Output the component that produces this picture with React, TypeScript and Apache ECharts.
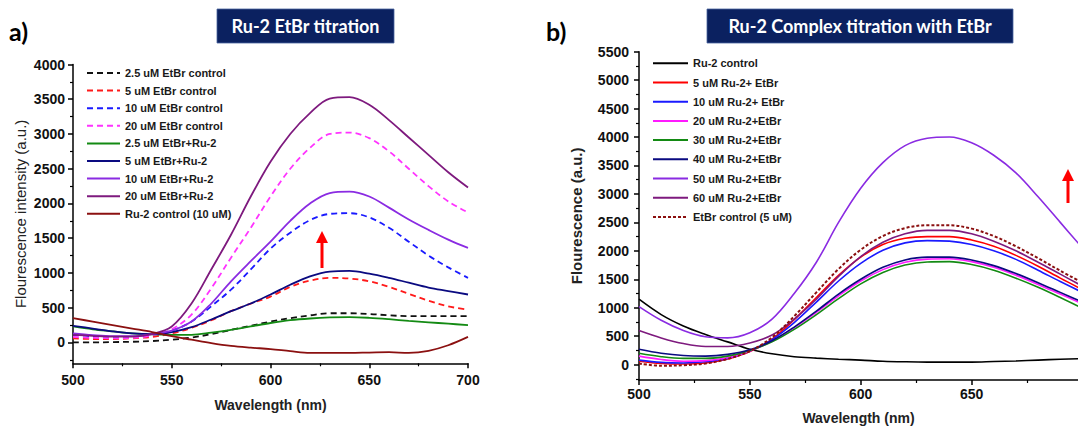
import React, { useEffect, useRef } from 'react';
import * as echarts from 'echarts';

// ---------- data ----------
const WL = [500, 510, 520, 530, 540, 550, 560, 570, 580, 590, 600, 610, 620, 630, 640, 650, 660, 670, 680, 690, 700];

// panel a) Ru-2 EtBr titration
const A_ETBR_25 = [0, 0, 5, 10, 20, 40, 70, 120, 180, 240, 300, 350, 390, 420, 420, 410, 390, 380, 380, 380, 380];
const A_ETBR_5 = [60, 50, 50, 60, 80, 130, 210, 320, 450, 560, 660, 800, 890, 930, 920, 880, 800, 700, 600, 520, 470];
const A_ETBR_10 = [110, 90, 80, 80, 110, 170, 300, 520, 760, 1050, 1350, 1580, 1760, 1850, 1860, 1800, 1650, 1450, 1250, 1080, 930];
const A_ETBR_20 = [80, 65, 60, 65, 100, 190, 400, 780, 1220, 1650, 2100, 2500, 2800, 3000, 3020, 2940, 2750, 2500, 2250, 2030, 1870];
const A_MIX_25 = [230, 190, 160, 130, 115, 110, 110, 140, 180, 230, 280, 320, 345, 360, 365, 355, 335, 310, 290, 270, 250];
const A_MIX_5 = [240, 200, 160, 130, 120, 150, 220, 330, 450, 560, 690, 830, 950, 1020, 1030, 990, 930, 860, 790, 740, 690];
const A_MIX_10 = [130, 105, 90, 90, 120, 170, 300, 560, 880, 1170, 1450, 1750, 2000, 2150, 2170, 2100, 1940, 1770, 1620, 1480, 1360];
const A_MIX_20 = [110, 95, 85, 85, 120, 230, 560, 1050, 1550, 2100, 2600, 3000, 3300, 3510, 3530, 3420, 3200, 2950, 2700, 2450, 2230];
const A_RU2 = [350, 300, 250, 200, 150, 90, 40, -10, -50, -75, -95, -125, -150, -150, -150, -145, -140, -150, -120, -40, 80];

// panel b) Ru-2 Complex titration with EtBr
const B_RU2 = [1150, 880, 680, 530, 400, 270, 190, 140, 115, 95, 80, 60, 50, 45, 45, 45, 55, 65, 80, 95, 105];
const B_5 = [60, 20, 10, 30, 100, 230, 450, 790, 1180, 1570, 1890, 2110, 2220, 2250, 2250, 2190, 2080, 1920, 1730, 1520, 1320];
const B_10 = [80, 40, 30, 50, 110, 240, 440, 740, 1100, 1470, 1780, 2010, 2140, 2180, 2170, 2110, 2000, 1850, 1660, 1460, 1270];
const B_20 = [150, 90, 60, 70, 120, 240, 410, 650, 920, 1210, 1470, 1670, 1800, 1855, 1860, 1810, 1710, 1570, 1410, 1240, 1070];
const B_30 = [200, 140, 110, 110, 150, 250, 400, 620, 880, 1160, 1420, 1620, 1750, 1805, 1810, 1760, 1660, 1520, 1360, 1180, 990];
const B_40 = [270, 200, 160, 150, 180, 260, 420, 660, 940, 1240, 1500, 1710, 1840, 1890, 1890, 1840, 1740, 1600, 1440, 1270, 1100];
const B_50 = [1020, 780, 600, 490, 470, 560, 800, 1250, 1800, 2500, 3100, 3550, 3850, 3980, 4000, 3900, 3680, 3370, 2950, 2500, 2050];
const B_60 = [600, 470, 370, 320, 320, 380, 520, 800, 1150, 1550, 1900, 2150, 2300, 2360, 2360, 2300, 2170, 2000, 1800, 1590, 1380];
const B_ETBR = [20, -20, -10, 20, 100, 240, 480, 850, 1270, 1680, 2020, 2260, 2400, 2450, 2450, 2390, 2260, 2080, 1870, 1650, 1440];

// tick labels
const X_TICKS_A = [500, 550, 600, 650, 700];
const X_MINOR_A = [525, 575, 625, 675];
const Y_TICKS_A = [0, 500, 1000, 1500, 2000, 2500, 3000, 3500, 4000];
const Y_MINOR_A = [-250, 250, 750, 1250, 1750, 2250, 2750, 3250, 3750];
const X_TICKS_B = [500, 550, 600, 650];
const X_MINOR_B = [525, 575, 625, 675];
const Y_TICKS_B = [0, 500, 1000, 1500, 2000, 2500, 3000, 3500, 4000, 4500, 5000, 5500];
const Y_MINOR_B = [-250, 250, 750, 1250, 1750, 2250, 2750, 3250, 3750, 4250, 4750, 5250];

const SERIES_A = [
  { name: '2.5 uM EtBr control', data: A_ETBR_25, color: '#111111', dash: true },
  { name: '5 uM EtBr control', data: A_ETBR_5, color: '#ff1a1a', dash: true },
  { name: '10 uM EtBr control', data: A_ETBR_10, color: '#1a1aff', dash: true },
  { name: '20 uM EtBr control', data: A_ETBR_20, color: '#ff33ff', dash: true },
  { name: '2.5 uM EtBr+Ru-2', data: A_MIX_25, color: '#138a13', dash: false },
  { name: '5 uM EtBr+Ru-2', data: A_MIX_5, color: '#0a0a80', dash: false },
  { name: '10 uM EtBr+Ru-2', data: A_MIX_10, color: '#8a2be2', dash: false },
  { name: '20 uM EtBr+Ru-2', data: A_MIX_20, color: '#7e1a7e', dash: false },
  { name: 'Ru-2 control (10 uM)', data: A_RU2, color: '#8b1010', dash: false },
];

const SERIES_B = [
  { name: 'Ru-2 control', data: B_RU2, color: '#000000', dot: false },
  { name: '5 uM Ru-2+ EtBr', data: B_5, color: '#ff0000', dot: false },
  { name: '10 uM Ru-2+ EtBr', data: B_10, color: '#1a1aff', dot: false },
  { name: '20 uM Ru-2+EtBr', data: B_20, color: '#ff1aff', dot: false },
  { name: '30 uM Ru-2+EtBr', data: B_30, color: '#138a13', dot: false },
  { name: '40 uM Ru-2+EtBr', data: B_40, color: '#0a0a80', dot: false },
  { name: '50 uM Ru-2+EtBr', data: B_50, color: '#8a2be2', dot: false },
  { name: '60 uM Ru-2+EtBr', data: B_60, color: '#7e1a7e', dot: false },
  { name: 'EtBr control (5 uM)', data: B_ETBR, color: '#8b1010', dot: true },
];

const FONT = '"Liberation Sans", Arial, sans-serif';

function mainAxis(dim: 'x' | 'y', gridIndex: number, min: number, max: number, ticks: number[], name: string, nameGap: number, labelMargin: number, nameBold: boolean) {
  return {
    type: 'value',
    gridIndex,
    min,
    max,
    position: dim === 'x' ? 'bottom' : 'left',
    name,
    nameLocation: 'middle',
    nameGap,
    nameTextStyle: { fontFamily: FONT, fontSize: dim === 'x' ? 14 : 15, fontWeight: nameBold ? 'bold' : 'normal', color: '#222' },
    axisLine: { show: true, onZero: false, lineStyle: { color: '#000', width: 1.5 } },
    axisTick: { show: true, customValues: ticks, length: 5, lineStyle: { color: '#000', width: 1.5 } },
    axisLabel: {
      show: true,
      customValues: ticks,
      formatter: (v: number) => String(v),
      fontFamily: FONT,
      fontSize: 14,
      fontWeight: 'bold',
      color: '#111',
      margin: labelMargin,
    },
    splitLine: { show: false },
  };
}

function minorAxis(dim: 'x' | 'y', gridIndex: number, min: number, max: number, ticks: number[]) {
  return {
    type: 'value',
    gridIndex,
    min,
    max,
    position: dim === 'x' ? 'bottom' : 'left',
    offset: 0,
    axisLine: { show: false, onZero: false },
    axisTick: { show: true, customValues: ticks, length: 3, lineStyle: { color: '#000', width: 1.2 } },
    axisLabel: { show: false },
    splitLine: { show: false },
  };
}

export default function App() {
  const ref = useRef<HTMLDivElement>(null);

  useEffect(() => {
    if (!ref.current) return;
    const chart = echarts.init(ref.current, undefined, { renderer: 'svg' });

    const seriesA = SERIES_A.map((s) => ({
      name: s.name,
      type: 'line',
      xAxisIndex: 0,
      yAxisIndex: 0,
      data: WL.map((w, i) => [w, s.data[i]]),
      symbol: 'none',
      smooth: 0.35,
      silent: true,
      lineStyle: { color: s.color, width: 1.8, type: s.dash ? [6, 4] : 'solid' },
      itemStyle: { color: s.color },
    }));
    const seriesB = SERIES_B.map((s) => ({
      name: s.name,
      type: 'line',
      xAxisIndex: 2,
      yAxisIndex: 2,
      data: WL.map((w, i) => [w, s.data[i]]),
      symbol: 'none',
      smooth: 0.35,
      silent: true,
      lineStyle: { color: s.color, width: s.dot ? 2 : 1.6, type: s.dot ? [3, 2] : 'solid' },
      itemStyle: { color: s.color },
    }));

    const legendText = { fontFamily: FONT, fontSize: 11, fontWeight: 'bold', color: '#1a1a1a' };

    chart.setOption({
      animation: false,
      backgroundColor: '#ffffff',
      grid: [
        { left: 73, right: 610, top: 64.5, bottom: 66.7, containLabel: false },
        { left: 639, right: 0, top: 51.7, bottom: 48.9, containLabel: false },
      ],
      xAxis: [
        mainAxis('x', 0, 500, 700, X_TICKS_A, 'Wavelength (nm)', 35, 10, true),
        minorAxis('x', 0, 500, 700, X_MINOR_A),
        mainAxis('x', 1, 500, 698, X_TICKS_B, 'Wavelength (nm)', 31, 7, true),
        minorAxis('x', 1, 500, 698, X_MINOR_B),
      ],
      yAxis: [
        mainAxis('y', 0, -300, 4000, Y_TICKS_A, 'Flourescence intensity (a.u.)', 45, 8, false),
        minorAxis('y', 0, -300, 4000, Y_MINOR_A),
        mainAxis('y', 1, -270, 5500, Y_TICKS_B, 'Flourescence (a.u.)', 55, 10, true),
        minorAxis('y', 1, -270, 5500, Y_MINOR_B),
      ],
      legend: [
        {
          data: SERIES_A.map((s) => s.name),
          orient: 'vertical',
          left: 81,
          top: 59.2,
          itemWidth: 33,
          itemHeight: 14,
          itemGap: 0,
          selectedMode: false,
          itemStyle: { opacity: 0 },
          textStyle: { ...legendText, lineHeight: 17.6 },
        },
        {
          data: SERIES_B.map((s) => s.name),
          orient: 'vertical',
          left: 647,
          top: 48.7,
          itemWidth: 35,
          itemHeight: 14,
          itemGap: 0,
          selectedMode: false,
          itemStyle: { opacity: 0 },
          textStyle: { ...legendText, lineHeight: 19.2 },
        },
      ],
      graphic: [
        { type: 'text', x: 9, y: 31, style: { text: 'a)', fontFamily: 'Lato, "Open Sans", sans-serif', fontSize: 25, fontWeight: 'bold', fill: '#000', verticalAlign: 'middle' } },
        { type: 'text', x: 546, y: 31, style: { text: 'b)', fontFamily: 'Lato, "Open Sans", sans-serif', fontSize: 25, fontWeight: 'bold', fill: '#000', verticalAlign: 'middle' } },
        { type: 'rect', shape: { x: 217, y: 9, width: 177, height: 34 }, style: { fill: '#0b2160', stroke: '#4a64a0', lineWidth: 0.8 } },
        { type: 'text', x: 305.5, y: 26, style: { text: 'Ru-2 EtBr titration', fontFamily: 'Lato, "Open Sans", sans-serif', fontSize: 18, fontWeight: 'bold', fill: '#fff', align: 'center', verticalAlign: 'middle' } },
        { type: 'rect', shape: { x: 707, y: 9, width: 306, height: 34 }, style: { fill: '#0b2160', stroke: '#4a64a0', lineWidth: 0.8 } },
        { type: 'text', x: 860, y: 26, style: { text: 'Ru-2 Complex titration with EtBr', fontFamily: 'Lato, "Open Sans", sans-serif', fontSize: 18, fontWeight: 'bold', fill: '#fff', align: 'center', verticalAlign: 'middle' } },
        { type: 'line', shape: { x1: 322, y1: 268, x2: 322, y2: 240 }, style: { stroke: '#ff0000', lineWidth: 3 } },
        { type: 'polygon', shape: { points: [[316, 243], [328, 243], [322, 231]] }, style: { fill: '#ff0000' } },
        { type: 'line', shape: { x1: 1068, y1: 203, x2: 1068, y2: 178 }, style: { stroke: '#ff0000', lineWidth: 3 } },
        { type: 'polygon', shape: { points: [[1062, 181], [1074, 181], [1068, 169]] }, style: { fill: '#ff0000' } },
      ],
      series: [...seriesA, ...seriesB],
    });

    return () => chart.dispose();
  }, []);

  return <div ref={ref} style={{ position: 'fixed', left: 0, top: 0, width: 1078, height: 430 }} />;
}
